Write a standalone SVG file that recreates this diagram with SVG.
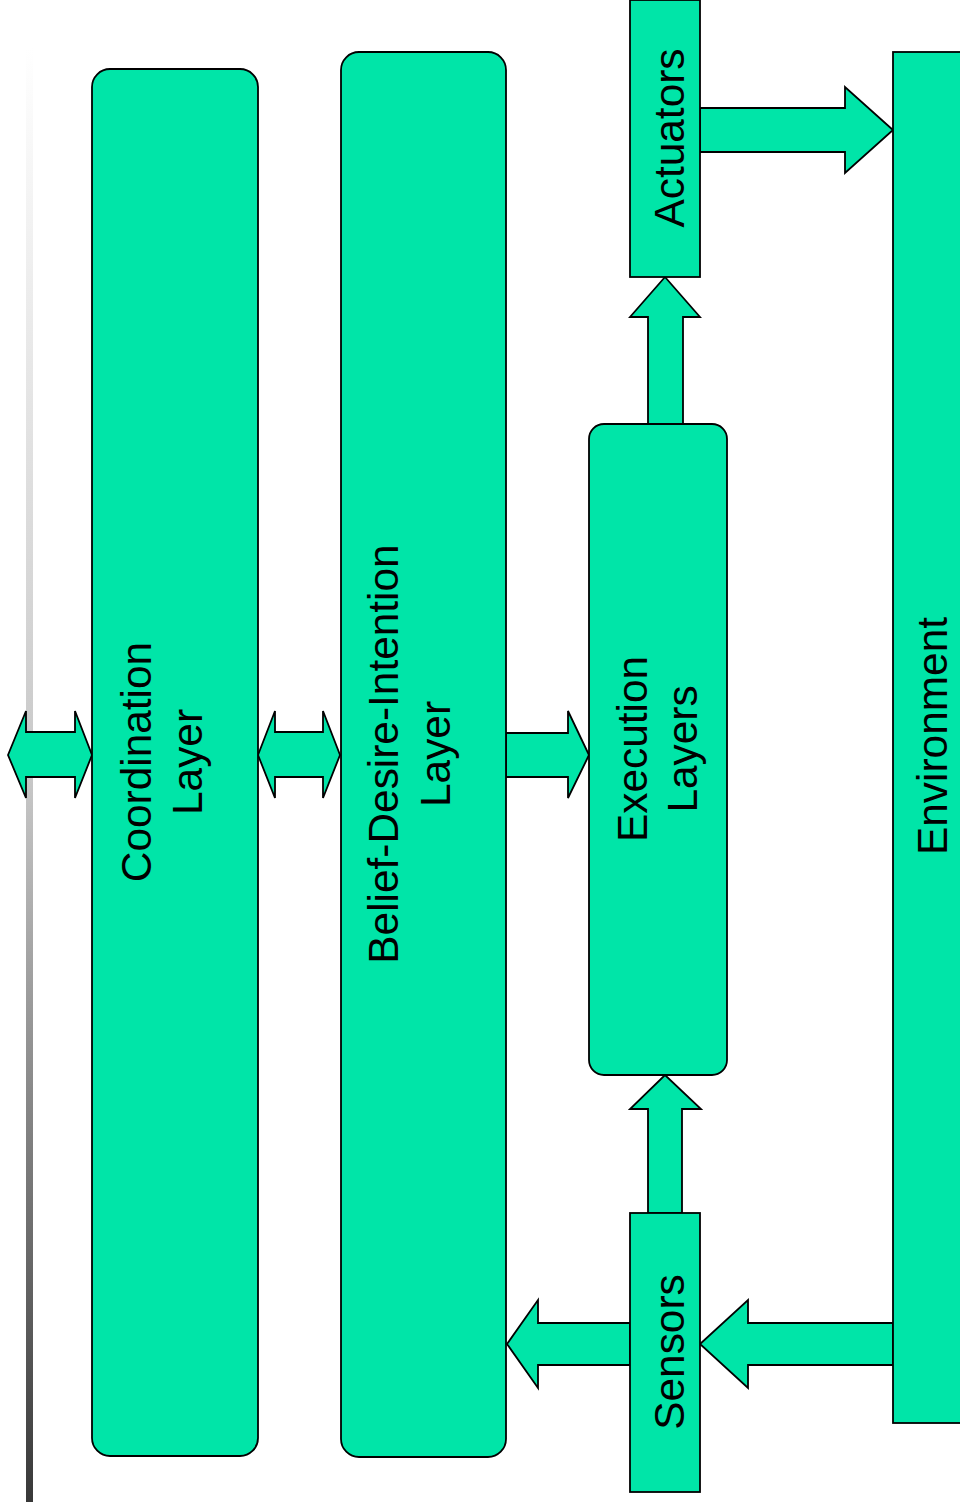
<svg xmlns="http://www.w3.org/2000/svg" width="960" height="1502" viewBox="0 0 960 1502">
  <defs>
    <linearGradient id="lineGrad" x1="0" y1="0" x2="0" y2="1">
      <stop offset="0" stop-color="#ffffff"/>
      <stop offset="0.5" stop-color="#c8c8c8"/>
      <stop offset="1" stop-color="#383838"/>
    </linearGradient>
  </defs>
  <style>
    .box { fill: #00E5A8; stroke: #000; stroke-width: 1.8; }
    .arrow { fill: #00E5A8; stroke: #000; stroke-width: 1.8; stroke-linejoin: miter; }
    .lbl { font-family: "Liberation Sans", Arial, sans-serif; font-size: 42.4px; fill: #000; text-anchor: middle; }
  </style>
  <rect x="0" y="0" width="960" height="1502" fill="#ffffff"/>
  <rect id="edge-line" x="26" y="48" width="7" height="1454" fill="url(#lineGrad)"/>

  <g id="connectors">
    <path class="arrow" d="M8,755 L26,711 L26,732 L75,732 L75,711 L92,755 L75,798 L75,777 L26,777 L26,798 Z"/>
    <path class="arrow" d="M258,755 L275,711 L275,732 L323,732 L323,711 L340,755 L323,798 L323,777 L275,777 L275,798 Z"/>
    <path class="arrow" d="M506,733 L568,733 L568,711 L589,755 L568,798 L568,777 L506,777 Z"/>
    <path class="arrow" d="M648,424 L648,317 L630,317 L665,277 L700,317 L683,317 L683,424 Z"/>
    <path class="arrow" d="M700,108 L845,108 L845,87 L893,130 L845,173 L845,152 L700,152 Z"/>
    <path class="arrow" d="M648,1213 L648,1109 L630,1109 L665,1075 L701,1109 L682,1109 L682,1213 Z"/>
    <path class="arrow" d="M630,1323 L538,1323 L538,1300 L507,1344 L538,1388 L538,1365 L630,1365 Z"/>
    <path class="arrow" d="M893,1323 L748,1323 L748,1300 L700,1344 L748,1388 L748,1365 L893,1365 Z"/>
  </g>

  <g id="coordination">
    <rect class="box" x="92" y="69" width="166" height="1387" rx="18" ry="18"/>
    <text class="lbl" transform="translate(175,762) rotate(-90)"><tspan x="0" y="-24">Coordination</tspan><tspan x="0" y="27">Layer</tspan></text>
  </g>

  <g id="bdi">
    <rect class="box" x="341" y="52" width="165" height="1405" rx="18" ry="18"/>
    <text class="lbl" transform="translate(423.5,754) rotate(-90)"><tspan x="0" y="-25.5">Belief-Desire-Intention</tspan><tspan x="0" y="26.5">Layer</tspan></text>
  </g>

  <g id="execution">
    <rect class="box" x="589" y="424" width="138" height="651" rx="15" ry="15"/>
    <text class="lbl" transform="translate(658,749) rotate(-90)"><tspan x="0" y="-11">Execution</tspan><tspan x="0" y="39">Layers</tspan></text>
  </g>

  <g id="actuators">
    <rect class="box" x="630" y="0" width="70" height="277"/>
    <text class="lbl" transform="translate(684,138) rotate(-90)" x="0" y="0">Actuators</text>
  </g>

  <g id="sensors">
    <rect class="box" x="630" y="1213" width="70" height="279"/>
    <text class="lbl" transform="translate(684,1352) rotate(-90)" x="0" y="0">Sensors</text>
  </g>

  <g id="environment">
    <rect class="box" x="893" y="52" width="90" height="1371"/>
    <text class="lbl" transform="translate(947,736) rotate(-90)" x="0" y="0">Environment</text>
  </g>
</svg>
